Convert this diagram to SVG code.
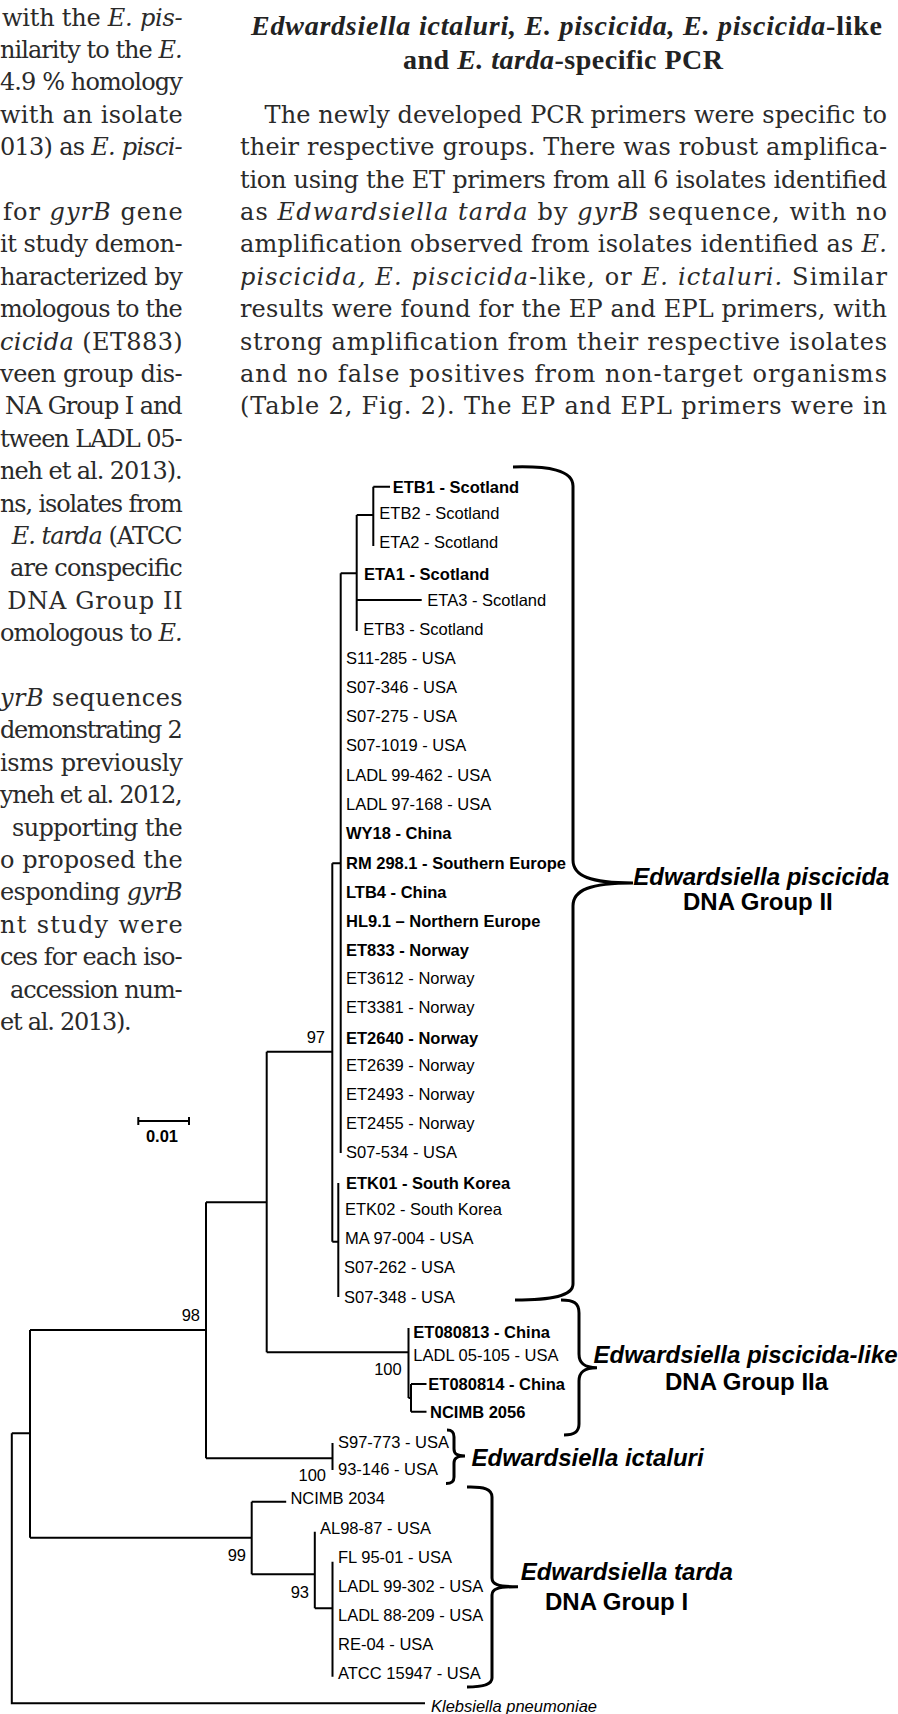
<svg xmlns="http://www.w3.org/2000/svg" width="898" height="1714" viewBox="0 0 898 1714">
<style>
.t{font-family:"DejaVu Serif","Liberation Serif",serif;font-size:24px;fill:#2a2a2a}
.h{font-family:"Liberation Serif","Times New Roman",serif;font-size:28px;font-weight:bold;fill:#222}
.i{font-style:italic}
.l{font-family:"Liberation Sans",Arial,sans-serif;font-size:16.5px;fill:#000}
.b{font-weight:bold}
.g{font-family:"Liberation Sans",Arial,sans-serif;font-size:24px;font-weight:bold;fill:#000}
.tr{fill:none;stroke:#000;stroke-width:2}
.br{fill:none;stroke:#000;stroke-width:3}
</style>
<rect width="898" height="1714" fill="#fff"/>
<g id="left-column">
<text class="t" x="2" y="25.6" textLength="180.7" lengthAdjust="spacing">with the <tspan class="i">E. pis-</tspan></text>
<text class="t" x="0" y="58" textLength="182.7" lengthAdjust="spacing">nilarity to the <tspan class="i">E.</tspan></text>
<text class="t" x="0" y="90.4" textLength="182.7" lengthAdjust="spacing">4.9 % homology</text>
<text class="t" x="0" y="122.8" textLength="182.7" lengthAdjust="spacing">with an isolate</text>
<text class="t" x="0" y="155.2" textLength="182.7" lengthAdjust="spacing">013) as <tspan class="i">E. pisci-</tspan></text>
<text class="t" x="3" y="220" textLength="179.7" lengthAdjust="spacing">for <tspan class="i">gyrB</tspan> gene</text>
<text class="t" x="0" y="252.4" textLength="182.7" lengthAdjust="spacing">it study demon-</text>
<text class="t" x="0" y="284.8" textLength="182.7" lengthAdjust="spacing">haracterized by</text>
<text class="t" x="0" y="317.2" textLength="182.7" lengthAdjust="spacing">mologous to the</text>
<text class="t" x="0" y="349.6" textLength="182.7" lengthAdjust="spacing"><tspan class="i">cicida</tspan> (ET883)</text>
<text class="t" x="0" y="382" textLength="182.7" lengthAdjust="spacing">veen group dis-</text>
<text class="t" x="5" y="414.4" textLength="177.7" lengthAdjust="spacing">NA Group I and</text>
<text class="t" x="0" y="446.8" textLength="182.7" lengthAdjust="spacing">tween LADL 05-</text>
<text class="t" x="0" y="479.2" textLength="182.7" lengthAdjust="spacing">neh et al. 2013).</text>
<text class="t" x="0" y="511.6" textLength="182.7" lengthAdjust="spacing">ns, isolates from</text>
<text class="t" x="11.7" y="544" textLength="171" lengthAdjust="spacing"><tspan class="i">E. tarda</tspan> (ATCC</text>
<text class="t" x="10" y="576.4" textLength="172.7" lengthAdjust="spacing">are conspecific</text>
<text class="t" x="7.3" y="608.8" textLength="175.4" lengthAdjust="spacing">DNA Group II</text>
<text class="t" x="0" y="641.2" textLength="182.7" lengthAdjust="spacing">omologous to <tspan class="i">E.</tspan></text>
<text class="t" x="0" y="706" textLength="182.7" lengthAdjust="spacing"><tspan class="i">yrB</tspan> sequences</text>
<text class="t" x="0" y="738.4" textLength="182.7" lengthAdjust="spacing">demonstrating 2</text>
<text class="t" x="0" y="770.8" textLength="182.7" lengthAdjust="spacing">isms previously</text>
<text class="t" x="0" y="803.2" textLength="182.7" lengthAdjust="spacing">yneh et al. 2012,</text>
<text class="t" x="12" y="835.6" textLength="170.7" lengthAdjust="spacing">supporting the</text>
<text class="t" x="0" y="868" textLength="182.7" lengthAdjust="spacing">o proposed the</text>
<text class="t" x="0" y="900.4" textLength="182.7" lengthAdjust="spacing">esponding <tspan class="i">gyrB</tspan></text>
<text class="t" x="0" y="932.8" textLength="182.7" lengthAdjust="spacing">nt study were</text>
<text class="t" x="0" y="965.2" textLength="182.7" lengthAdjust="spacing">ces for each iso-</text>
<text class="t" x="10" y="997.6" textLength="172.7" lengthAdjust="spacing">accession num-</text>
<text class="t" x="0" y="1030" textLength="131.7" lengthAdjust="spacing">et al. 2013).</text>
</g>
<g id="right-column">
<text class="h" x="566.5" y="35" text-anchor="middle" textLength="631" lengthAdjust="spacing"><tspan class="i">Edwardsiella ictaluri, E. piscicida, E. piscicida</tspan>-like</text>
<text class="h" x="563" y="69" text-anchor="middle" textLength="320" lengthAdjust="spacing">and <tspan class="i">E. tarda</tspan>-specific PCR</text>
<text class="t" x="264.6" y="122.8" textLength="622.4" lengthAdjust="spacing">The newly developed PCR primers were specific to</text>
<text class="t" x="240" y="155.2" textLength="647" lengthAdjust="spacing">their respective groups. There was robust amplifica-</text>
<text class="t" x="240" y="187.6" textLength="647" lengthAdjust="spacing">tion using the ET primers from all 6 isolates identified</text>
<text class="t" x="240" y="220" textLength="647" lengthAdjust="spacing">as <tspan class="i">Edwardsiella tarda</tspan> by <tspan class="i">gyrB</tspan> sequence, with no</text>
<text class="t" x="240" y="252.4" textLength="647" lengthAdjust="spacing">amplification observed from isolates identified as <tspan class="i">E.</tspan></text>
<text class="t" x="240" y="284.8" textLength="647" lengthAdjust="spacing"><tspan class="i">piscicida, E. piscicida</tspan>-like, or <tspan class="i">E. ictaluri.</tspan> Similar</text>
<text class="t" x="240" y="317.2" textLength="647" lengthAdjust="spacing">results were found for the EP and EPL primers, with</text>
<text class="t" x="240" y="349.6" textLength="647" lengthAdjust="spacing">strong amplification from their respective isolates</text>
<text class="t" x="240" y="382" textLength="647" lengthAdjust="spacing">and no false positives from non-target organisms</text>
<text class="t" x="240" y="414.4" textLength="647" lengthAdjust="spacing">(Table 2, Fig. 2). The EP and EPL primers were in</text>
</g>
<g id="connectors">
<path class="tr" d="M373.3,486.7H390 M373.3,486.7V546 M356.7,515H373.3 M356.7,515V631 M340.7,573.3H356.7 M356.7,600H421.7 M340.7,573.3V1153 M332.3,863.3H340.7 M332.3,863.3V1241.7 M332.3,1241.7H338.3 M338.3,1183V1297 M266.7,1051.7H332.3 M266.7,1051.7V1352.3 M266.7,1352.3H408.5 M408.5,1328V1398 M408.5,1398H411 M411,1384V1411.7 M411,1384H426.5 M411,1411.7H426.5 M206,1202.3H266.7 M206,1202.3V1458.3 M206,1458.3H332.5 M332.5,1443V1470 M30,1330H206 M30,1330V1537.7 M30,1537.7H251.7 M11.8,1433.3H30 M11.8,1433.3V1703.3H425 M251.7,1501.7V1574.3 M251.7,1501.7H286.2 M251.7,1574.3H314.8 M314.8,1531.7V1608.3 M314.8,1608.3H332.5 M332.5,1561.7V1676.7"/>
</g>
<g id="scale-bar">
<path class="tr" d="M138.3,1121H189 M138.3,1117V1125 M189,1117V1125"/>
<text class="l b" x="162" y="1141.5" text-anchor="middle" font-size="14">0.01</text>
</g>
<g id="bootstrap">
<text class="l" x="325" y="1042.7" text-anchor="end">97</text>
<text class="l" x="200" y="1321" text-anchor="end">98</text>
<text class="l" x="401.7" y="1375" text-anchor="end">100</text>
<text class="l" x="326" y="1481" text-anchor="end">100</text>
<text class="l" x="246" y="1561" text-anchor="end">99</text>
<text class="l" x="309" y="1597.7" text-anchor="end">93</text>
</g>
<g id="clade-piscicida">
<text class="l b" x="392.7" y="492.7">ETB1 - Scotland</text>
<text class="l" x="379.3" y="519">ETB2 - Scotland</text>
<text class="l" x="379.3" y="547.7">ETA2 - Scotland</text>
<text class="l b" x="364" y="579.5">ETA1 - Scotland</text>
<text class="l" x="427.3" y="606">ETA3 - Scotland</text>
<text class="l" x="363.3" y="635">ETB3 - Scotland</text>
<text class="l" x="346" y="664.3">S11-285 - USA</text>
<text class="l" x="346" y="693.3">S07-346 - USA</text>
<text class="l" x="346" y="722.4">S07-275 - USA</text>
<text class="l" x="346" y="751.4">S07-1019 - USA</text>
<text class="l" x="346" y="780.5">LADL 99-462 - USA</text>
<text class="l" x="346" y="809.5">LADL 97-168 - USA</text>
<text class="l b" x="346" y="838.5">WY18 - China</text>
<text class="l b" x="346" y="869">RM 298.1 - Southern Europe</text>
<text class="l b" x="346" y="897.5">LTB4 - China</text>
<text class="l b" x="346" y="926.5">HL9.1 – Northern Europe</text>
<text class="l b" x="346" y="955.5">ET833 - Norway</text>
<text class="l" x="346" y="984">ET3612 - Norway</text>
<text class="l" x="346" y="1012.7">ET3381 - Norway</text>
<text class="l b" x="346" y="1044">ET2640 - Norway</text>
<text class="l" x="346" y="1071">ET2639 - Norway</text>
<text class="l" x="346" y="1100">ET2493 - Norway</text>
<text class="l" x="346" y="1128.7">ET2455 - Norway</text>
<text class="l" x="346" y="1157.7">S07-534 - USA</text>
<text class="l b" x="346" y="1189.3">ETK01 - South Korea</text>
<text class="l" x="345" y="1215.3">ETK02 - South Korea</text>
<text class="l" x="345" y="1244">MA 97-004 - USA</text>
<text class="l" x="344" y="1273.3">S07-262 - USA</text>
<text class="l" x="344" y="1302.7">S07-348 - USA</text>
</g>
<g id="clade-piscicida-like">
<text class="l b" x="413.3" y="1337.7">ET080813 - China</text>
<text class="l" x="413.3" y="1361">LADL 05-105 - USA</text>
<text class="l b" x="428.3" y="1390">ET080814 - China</text>
<text class="l b" x="430" y="1417.7">NCIMB 2056</text>
</g>
<g id="clade-ictaluri">
<text class="l" x="338" y="1447.7">S97-773 - USA</text>
<text class="l" x="338" y="1475.3">93-146 - USA</text>
</g>
<g id="clade-tarda">
<text class="l" x="290.4" y="1504.3">NCIMB 2034</text>
<text class="l" x="320" y="1533.7">AL98-87 - USA</text>
<text class="l" x="338" y="1562.7">FL 95-01 - USA</text>
<text class="l" x="338" y="1591.7">LADL 99-302 - USA</text>
<text class="l" x="338" y="1621">LADL 88-209 - USA</text>
<text class="l" x="338" y="1650">RE-04 - USA</text>
<text class="l" x="338" y="1679.3">ATCC 15947 - USA</text>
</g>
<g id="outgroup">
<text class="l i" x="431" y="1712" font-size="17">Klebsiella pneumoniae</text>
</g>
<g id="bracket-piscicida">
<path class="br" d="M513,467C548,466 573,470 573,486L573,860C573,876 590,883 633,883M633,883C590,883 573,890 573,906L573,1284C573,1296 552,1300 515,1300"/>
<text class="g i" x="633.3" y="885">Edwardsiella piscicida</text>
<text class="g" x="683" y="910">DNA Group II</text>
</g>
<g id="bracket-piscicida-like">
<path class="br" d="M561,1300C574,1300 579,1303 579,1313L579,1354C579,1363 584,1367.7 597,1367.7M597,1367.7C584,1367.7 579,1372 579,1381L579,1424C579,1432 574,1435 564,1435"/>
<text class="g i" x="593.5" y="1363">Edwardsiella piscicida-like</text>
<text class="g" x="665" y="1390">DNA Group IIa</text>
</g>
<g id="bracket-ictaluri">
<path class="br" d="M447,1430C452,1430 454,1432 454,1437L454,1449C454,1454 457,1456 465,1456M465,1456C457,1456 454,1458 454,1463L454,1477C454,1481.5 452,1483.5 446,1483.5"/>
<text class="g i" x="471.5" y="1466">Edwardsiella ictaluri</text>
</g>
<g id="bracket-tarda">
<path class="br" d="M467,1487C484,1486.5 492,1489 492,1497L492,1578C492,1584 497,1586.7 518,1586.7M518,1586.7C497,1586.7 492,1589 492,1595L492,1678C492,1684 484,1687 467,1687"/>
<text class="g i" x="520.7" y="1579.5">Edwardsiella tarda</text>
<text class="g" x="545" y="1610">DNA Group I</text>
</g>
</svg>
